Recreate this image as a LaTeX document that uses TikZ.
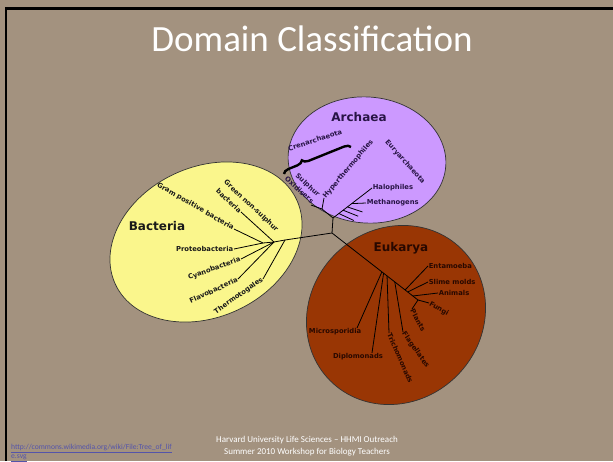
\documentclass[tikz,border=0pt]{standalone}
\usepackage{fontspec}
\setmainfont{Carlito}
\newfontfamily\treefont{DejaVu Sans}
\usetikzlibrary{calc,decorations.pathreplacing}
\definecolor{slidebg}{RGB}{163,146,127}
\definecolor{bactfill}{RGB}{250,246,140}
\definecolor{archfill}{RGB}{204,153,255}
\definecolor{eukfill}{RGB}{153,54,4}
\definecolor{linkblue}{RGB}{84,84,170}

\begin{document}
\begin{tikzpicture}[x=1pt,y=-1pt,
    lbl/.style={font=\treefont\bfseries\fontsize{6.8}{9.5}\selectfont, inner sep=0.6pt},
    dom/.style={font=\treefont\bfseries\fontsize{12}{14}\selectfont, inner sep=0pt},
    branch/.style={line width=0.8pt, black}]

    \useasboundingbox (0,0) rectangle (613,461);
    \fill[slidebg] (0,0) rectangle (613,461);
    \draw[line width=2.5pt] (6.2,461) -- (6.2,8.6) -- (613,8.6);

    \node[font=\fontsize{37}{40}\selectfont, text=white, anchor=base] (title) at (312,51) {Domain Classification};

    % the three domains
    \draw[fill=bactfill, draw=black!80, line width=0.7pt, rotate around={25:(206,242)}] (206,242) ellipse [x radius=100, y radius=75];
    \draw[fill=archfill, draw=black!80, line width=0.7pt, rotate around={-5:(367,160)}] (367,160) ellipse [x radius=79, y radius=63];
    \draw[fill=eukfill, draw=black!80, line width=0.7pt, rotate around={45:(396,315)}] (396,315) ellipse [x radius=93, y radius=86];

    \coordinate (cJ) at (332,233);

    \begin{scope}[every node/.append style={text=black!90}]
        \node[dom] (bactlbl) at (157,226) {Bacteria};
        \coordinate (bA) at (285,240);
        \coordinate (bB) at (274,242);
        \coordinate (bC) at (263,243);
        \node[lbl, rotate=35, anchor=east] (thermo) at (263,279) {Thermotogales};
        \node[lbl, rotate=25, anchor=east] (flavo) at (238,279) {Flavobacteria};
        \node[lbl, rotate=20, anchor=east] (cyano) at (241,259) {Cyanobacteria};
        \node[lbl, anchor=east] (proteo) at (234,249) {Proteobacteria};
        \node[lbl, rotate=-30, anchor=east] (gram) at (234,229) {Gram positive bacteria};
        \node[lbl, rotate=-43, anchor=east] (gnsb) at (241,212) {bacteria};
        \node[lbl, rotate=-43] (gns) at (251,206) {Green non-sulphur};
        \draw[branch] (cJ) -- (bA) -- (bB) -- (bC);
        \draw[branch] (bA) -- (thermo.east);
        \draw[branch] (bB) -- (flavo.east);
        \draw[branch] (bB) -- (cyano.east);
        \draw[branch] (bB) -- (gnsb.east);
        \draw[branch] (bC) -- (proteo.east);
        \draw[branch] (bC) -- (gram.east);
    \end{scope}

    \begin{scope}[every node/.append style={text={rgb,255:red,40;green,20;blue,70}}]
        \node[dom] (archlbl) at (359,117) {Archaea};
        \coordinate (aJ) at (333,218);
        \coordinate (aS) at (322,209);
        \node[lbl, rotate=50, anchor=west] (hyper) at (324,198) {Hyperthermophiles};
        \node[lbl, rotate=-42, align=right, anchor=south east] (sulox) at (311,205) {Sulphur\\Oxidisers};
        \node[lbl, anchor=west] (halo) at (372,188) {Halophiles};
        \node[lbl, anchor=west] (meth) at (366,203) {Methanogens};
        \node[lbl, rotate=18] (cren) at (315,140) {Crenarchaeota};
        \node[lbl, rotate=-48] (eury) at (405,162) {Euryarchaeota};
        \coordinate (crA) at (284,174);
        \coordinate (crB) at (351,147);
        \draw[line width=2.4pt, decorate, decoration={brace, amplitude=6pt, aspect=0.3}] (crA) -- (crB);
        \draw[branch] (cJ) -- (aJ) -- (aS) -- (hyper.west);
        \draw[branch] (aS) -- (sulox.south east);
        \draw[branch] (aJ) -- (halo.west);
        \draw[branch] ($(aJ)!0.48!(halo.west)$) -- (meth.west);
        \foreach \t/\dy in {0.15/7,0.26/6,0.37/5}
            \draw[branch] ($(aJ)!\t!(halo.west)$) -- ++(15,\dy);
    \end{scope}

    \begin{scope}[every node/.append style={text={rgb,255:red,40;green,8;blue,0}}]
        \node[dom] (euklbl) at (401,248) {Eukarya};
        \coordinate (eJ) at (418,300);
        \node[lbl, anchor=north east] (micro) at (362,328) {Microsporidia};
        \node[lbl] (diplo) at (358,357) {Diplomonads};
        \node[lbl, rotate=-66, anchor=west] (tricho) at (389,333) {Trichomonads};
        \node[lbl, rotate=-55, anchor=west] (flag) at (403,332) {Flagellates};
        \node[lbl, anchor=west] (ent) at (428,266) {Entamoeba};
        \node[lbl, anchor=west] (slime) at (428,282) {Slime molds};
        \node[lbl, anchor=west] (anim) at (438,293) {Animals};
        \node[lbl, rotate=-30, anchor=west] (fungi) at (429,303) {Fungi};
        \node[lbl, rotate=-62, anchor=west] (plants) at (412,309) {Plants};
        \draw[branch] (cJ) -- (eJ);
        \draw[branch] ($(cJ)!0.58!(eJ)$) -- ($(micro.north east)+(-5,0)$);
        \draw[branch] ($(cJ)!0.60!(eJ)$) -- ($(diplo.north)+(14,0)$);
        \draw[branch] ($(cJ)!0.64!(eJ)$) -- (tricho.west);
        \draw[branch] ($(cJ)!0.73!(eJ)$) -- (flag.west);
        \draw[branch] ($(cJ)!0.85!(eJ)$) -- (ent.west);
        \draw[branch] ($(cJ)!0.88!(eJ)$) -- (slime.west);
        \draw[branch] ($(cJ)!0.94!(eJ)$) -- (anim.west);
        \draw[branch] (eJ) -- (fungi.west);
        \draw[branch] (eJ) -- (plants.west);
    \end{scope}

    % footer
    \node[font=\fontsize{9}{11.5}\selectfont, text=white, align=center, anchor=north] (credit) at (307,433) {Harvard University Life Sciences – HHMI Outreach\\Summer 2010 Workshop for Biology Teachers};
    \node[font=\fontsize{7.6}{9.5}\selectfont, text=linkblue, align=left, anchor=north west, inner sep=0pt] (src) at (11,444) {\underline{http://commons.wikimedia.org/wiki/File:Tree\_of\_lif}\\\underline{e.svg}};
\end{tikzpicture}
\end{document}
